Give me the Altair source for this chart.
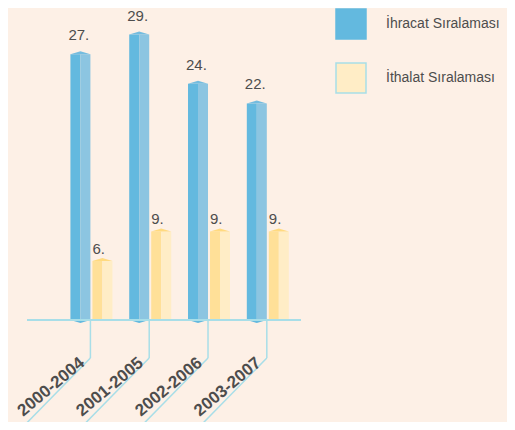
import altair as alt
import pandas as pd

periods = ["2000-2004", "2001-2005", "2002-2006", "2003-2007"]
ihracat = [27, 29, 24, 22]
ithalat = [6, 9, 9, 9]
series_names = ["İhracat Sıralaması", "İthalat Sıralaması"]

BG = "#FDF0E6"
BLUE_L = "#63B9DF"
BLUE_R = "#8CC5E1"
BLUE_CAP = "#74BCDF"
YEL_L = "#FFE098"
YEL_R = "#FFEDC6"
YEL_CAP = "#FFDA80"
CYAN = "#A8DEE8"
TXT = "#4D4D4D"
FONT = "Liberation Sans"

rows = []
for i, p in enumerate(periods):
    rows.append(dict(period=p, idx=i, series=series_names[0], value=ihracat[i], label=f"{ihracat[i]}."))
    rows.append(dict(period=p, idx=i, series=series_names[1], value=ithalat[i], label=f"{ithalat[i]}."))
df = pd.DataFrame(rows)

XS = alt.Scale(domain=[-79 / 60, 7])
YS = alt.Scale(domain=[0, 31.7])
X = alt.X("idx:Q", scale=XS, axis=None)
Y = alt.Y("value:Q", scale=YS, axis=None)
Y0 = alt.Y("zero:Q", scale=YS, axis=None)

base = alt.Chart(df).transform_calculate(zero="0", idx2="datum.idx - 1.2")
exp = base.transform_filter(alt.datum.series == series_names[0])
imp = base.transform_filter(alt.datum.series == series_names[1])

ROOF = "M-1,0L0,-0.3L1,0Z"
FLOOR = "M-1,0L0,0.3L1,0Z"

layers = [
    exp.mark_bar(width=10, xOffset=-15, color=BLUE_L).encode(x=X, y=Y),
    exp.mark_bar(width=10, xOffset=-5, color=BLUE_R).encode(x=X, y=Y),
    exp.mark_point(shape=ROOF, size=400, filled=True, opacity=1, color=BLUE_CAP, xOffset=-10).encode(x=X, y=Y),
    exp.mark_point(shape=FLOOR, size=400, filled=True, opacity=1, color=BLUE_L, xOffset=-10).encode(x=X, y=Y0),
    imp.mark_bar(width=10, xOffset=7, color=YEL_L).encode(x=X, y=Y),
    imp.mark_bar(width=10, xOffset=17, color=YEL_R).encode(x=X, y=Y),
    imp.mark_point(shape=ROOF, size=400, filled=True, opacity=1, color=YEL_CAP, xOffset=12).encode(x=X, y=Y),
    exp.mark_text(align="left", baseline="alphabetic", dx=-22, dy=-14, font=FONT, fontSize=15, color=TXT).encode(x=X, y=Y, text="label:N"),
    imp.mark_text(align="left", baseline="alphabetic", dx=2, dy=-7, font=FONT, fontSize=15, color=TXT).encode(x=X, y=Y, text="label:N"),
    exp.transform_filter(alt.datum.idx == 0).mark_rule(color=CYAN, strokeWidth=2).encode(
        x=alt.value(19), x2=alt.value(293), y=Y0),
    exp.mark_rule(color=CYAN, strokeWidth=1.5).encode(x=X, y=alt.value(312), y2=alt.value(350)),
    exp.mark_rule(color=CYAN, strokeWidth=1.5).encode(
        x=X, x2="idx2:Q", y=alt.value(350), y2=alt.value(422)),
    exp.mark_text(angle=320, align="right", baseline="alphabetic", dx=-8, dy=2,
                  font=FONT, fontSize=17, fontWeight="bold", color=TXT).encode(
        x=X, y=alt.value(350), text="period:N"),
    base.mark_square(size=0).encode(
        x=X, y=Y,
        color=alt.Color("series:N", scale=alt.Scale(domain=series_names, range=[BLUE_L, YEL_R]),
                        legend=alt.Legend(title=None)),
        stroke=alt.Stroke("series:N", scale=alt.Scale(domain=series_names, range=[BLUE_L, CYAN]),
                          legend=alt.Legend(title=None)),
    ),
]

chart = alt.layer(*layers).properties(
    width=499, height=312,
    autosize=alt.AutoSizeParams(type="none"),
    padding={"left": 0, "top": 0, "right": 0, "bottom": 102},
    background=BG,
).configure_view(stroke=None).configure_legend(
    orient="none", legendX=327, legendY=0, padding=0,
    symbolType="square", symbolSize=900, symbolStrokeWidth=1.5, symbolOpacity=1,
    rowPadding=18, labelOffset=19, labelFont=FONT, labelFontSize=14, labelColor=TXT,
    labelLimit=200,
)

chart.save("out.html", embed_options={"renderer": "svg", "actions": False})
